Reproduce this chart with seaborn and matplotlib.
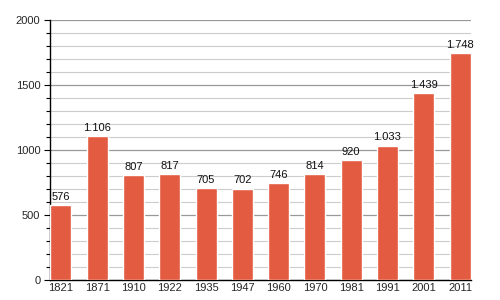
import matplotlib
matplotlib.use("Agg")
import matplotlib.pyplot as plt
import seaborn as sns
import pandas as pd
from matplotlib.ticker import MultipleLocator

years = ["1821", "1871", "1910", "1922", "1935", "1947", "1960", "1970", "1981", "1991", "2001", "2011"]
population = [576, 1106, 807, 817, 705, 702, 746, 814, 920, 1033, 1439, 1748]
value_labels = ["576", "1.106", "807", "817", "705", "702", "746", "814", "920", "1.033", "1.439", "1.748"]

sns.set_theme(style="white")
plt.rcParams['font.family'] = ['Liberation Sans', 'DejaVu Sans']

df = pd.DataFrame({"year": years, "pop": population})
fig = plt.figure(figsize=(5, 3), dpi=100)
ax = fig.add_axes([0.1, 0.0667, 0.842, 0.8666])

sns.barplot(data=df, x="year", y="pop", color="#E35B40", saturation=1, width=0.58, ax=ax, zorder=3)

ax.set_ylim(0, 2000)
ax.set_xlim(-0.3, 11.3)
ax.yaxis.set_major_locator(MultipleLocator(500))
ax.yaxis.set_minor_locator(MultipleLocator(100))
ax.grid(which="minor", axis="y", color="#cccccc", linewidth=0.8, zorder=0)
ax.grid(which="major", axis="y", color="#999999", linewidth=0.9, zorder=0)
ax.set_axisbelow(True)

for s in ["top", "right"]:
    ax.spines[s].set_visible(False)
ax.spines["left"].set_color("black")
ax.spines["bottom"].set_color("black")
ax.spines["left"].set_linewidth(1.0)
ax.spines["bottom"].set_linewidth(1.0)

ax.tick_params(axis="y", which="major", left=True, length=4, width=0.8, color="black", labelsize=8, pad=3)
ax.tick_params(axis="y", which="minor", left=True, length=3, width=0.8, color="black")
ax.tick_params(axis="x", bottom=False, length=0, labelsize=8, pad=2)
ax.set_xlabel("")
ax.set_ylabel("")

for i, (v, lab) in enumerate(zip(population, value_labels)):
    ax.text(i, v + 25, lab, ha="center", va="bottom", fontsize=8, color="#111111")

fig.savefig("out.png", dpi=100)
